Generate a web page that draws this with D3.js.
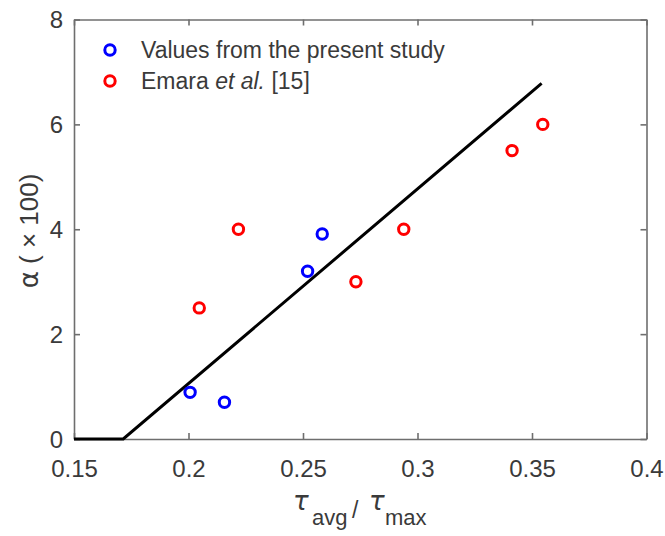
<!doctype html>
<html>
<head>
<style>
  body {
    margin: 0;
    background-color: white;
  }
  text {
    font-family: "Liberation Sans", Arial, sans-serif;
    fill: #3a3a3a;
  }
</style>
<script src="https://d3js.org/d3.v7.min.js"></script>
</head>
<body>
<script>

  // data
  var presentX = [0.2007, 0.2157, 0.2520, 0.2584];
  var presentY = [0.89, 0.70, 3.20, 3.91];

  var emaraX = [0.2047, 0.2218, 0.2731, 0.2940, 0.3413, 0.3547];
  var emaraY = [2.50, 4.00, 3.00, 4.00, 5.50, 6.00];

  // fitted line (flat at zero, then linear)
  var fitX = [0.15, 0.1715, 0.3542];
  var fitY = [0, 0, 6.78];

  var xTicks = [0.15, 0.2, 0.25, 0.3, 0.35, 0.4];
  var yTicks = [0, 2, 4, 6, 8];

  var svg_width = 665;
  var svg_height = 536;
  var plotLeft = 74, plotRight = 646.5, plotTop = 19.5, plotBottom = 439;

  var svg = d3.select("body")
              .append("svg")
              .attr("width", svg_width)
              .attr("height", svg_height);

  var xScale = d3.scaleLinear().domain([0.15, 0.4]).range([plotLeft, plotRight]);
  var yScale = d3.scaleLinear().domain([0, 8]).range([plotBottom, plotTop]);

  var axisColor = "#6e6e6e";
  var tickLen = 6;

  // bottom / top axes
  var xAxis = svg.append("g")
    .attr("transform", "translate(0," + plotBottom + ")")
    .call(d3.axisBottom(xScale).tickValues(xTicks).tickSizeInner(-tickLen).tickSizeOuter(0)
      .tickFormat(function(d) { return String(+d.toFixed(2)); }));
  xAxis.selectAll("text").attr("dy", "0").attr("y", 38).style("font-size", "24px").attr("fill", "#3a3a3a");

  svg.append("g")
    .attr("transform", "translate(0," + plotTop + ")")
    .call(d3.axisTop(xScale).tickValues(xTicks).tickSizeInner(-tickLen).tickSizeOuter(0).tickFormat(""));

  // left / right axes
  var yAxis = svg.append("g")
    .attr("transform", "translate(" + plotLeft + ",0)")
    .call(d3.axisLeft(yScale).tickValues(yTicks).tickSizeInner(-tickLen).tickSizeOuter(0));
  yAxis.selectAll("text").attr("x", -11).attr("dy", "0.35em").style("font-size", "24px").attr("fill", "#3a3a3a");

  svg.append("g")
    .attr("transform", "translate(" + plotRight + ",0)")
    .call(d3.axisRight(yScale).tickValues(yTicks).tickSizeInner(-tickLen).tickSizeOuter(0).tickFormat(""));

  svg.selectAll(".domain").attr("stroke", axisColor).attr("stroke-width", 1.6);
  svg.selectAll(".tick line").attr("stroke", axisColor).attr("stroke-width", 1.6);

  // fit line
  var line = d3.line()
    .x(function(d) { return xScale(d[0]); })
    .y(function(d) { return yScale(d[1]); });

  svg.append("path")
    .datum(fitX.map(function(x, i) { return [x, fitY[i]]; }))
    .attr("d", line)
    .attr("fill", "none")
    .attr("stroke", "black")
    .attr("stroke-width", 3);

  // markers
  svg.selectAll(".emara")
    .data(emaraX)
    .enter().append("circle")
    .attr("class", "emara")
    .attr("cx", function(d) { return xScale(d); })
    .attr("cy", function(d, i) { return yScale(emaraY[i]); })
    .attr("r", 5.2)
    .attr("fill", "none")
    .attr("stroke", "#ff0000")
    .attr("stroke-width", 3);

  svg.selectAll(".present")
    .data(presentX)
    .enter().append("circle")
    .attr("class", "present")
    .attr("cx", function(d) { return xScale(d); })
    .attr("cy", function(d, i) { return yScale(presentY[i]); })
    .attr("r", 5.2)
    .attr("fill", "none")
    .attr("stroke", "#0000ff")
    .attr("stroke-width", 3);

  // legend
  var legend = svg.append("g");
  legend.append("circle").attr("cx", 110).attr("cy", 50).attr("r", 5.2)
    .attr("fill", "none").attr("stroke", "#0000ff").attr("stroke-width", 3);
  legend.append("text").attr("x", 141).attr("y", 58).style("font-size", "23px")
    .text("Values from the present study");

  legend.append("circle").attr("cx", 110).attr("cy", 81).attr("r", 5.2)
    .attr("fill", "none").attr("stroke", "#ff0000").attr("stroke-width", 3);
  var t2 = legend.append("text").attr("x", 141).attr("y", 89).style("font-size", "23px");
  t2.append("tspan").text("Emara ");
  t2.append("tspan").style("font-style", "italic").text("et al.");
  t2.append("tspan").text(" [15]");

  // x axis title: tau_avg / tau_max
  var xt = svg.append("g");
  xt.append("text").attr("x", 293).attr("y", 510).style("font-size", "26px")
    .style("font-style", "italic").style("font-family", "'DejaVu Sans', sans-serif").text("τ");
  xt.append("text").attr("x", 312).attr("y", 525).style("font-size", "22px").text("avg");
  xt.append("text").attr("x", 352).attr("y", 518).style("font-size", "23px").text("/");
  xt.append("text").attr("x", 369).attr("y", 510).style("font-size", "26px")
    .style("font-style", "italic").style("font-family", "'DejaVu Sans', sans-serif").text("τ");
  xt.append("text").attr("x", 385).attr("y", 525).style("font-size", "22px").text("max");

  // y axis title
  var yt = svg.append("text")
    .attr("transform", "translate(38,231) rotate(-90)")
    .attr("text-anchor", "middle")
    .style("font-size", "26px");
  yt.append("tspan").style("font-family", "'DejaVu Sans', sans-serif").text("α");
  yt.append("tspan").text(" ( × 100)");

</script>
</body>
</html>
